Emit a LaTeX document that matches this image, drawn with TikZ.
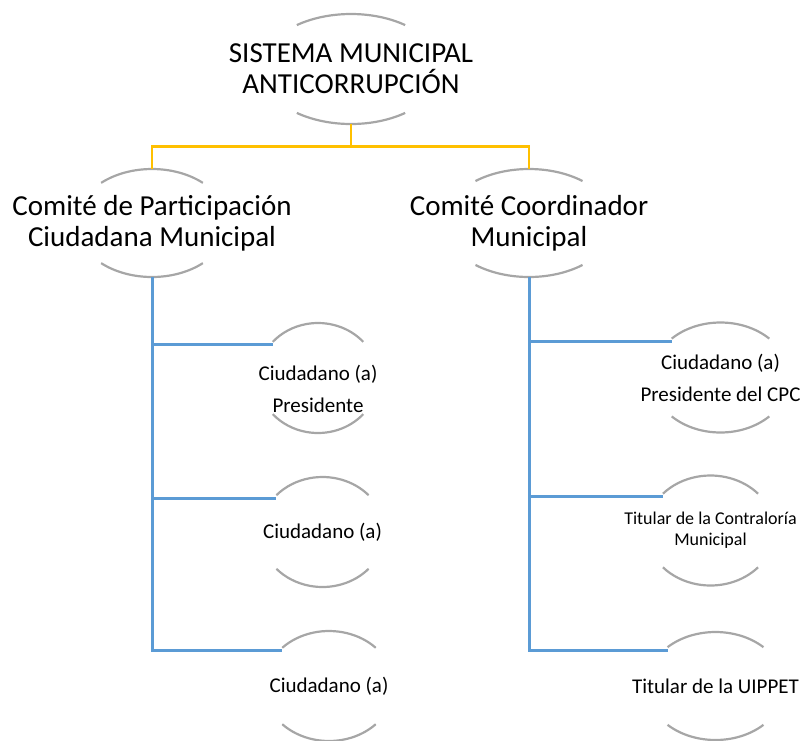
\documentclass[tikz,border=0pt]{standalone}
\usepackage{fontspec}
\setmainfont{Carlito}
\usetikzlibrary{positioning}

\definecolor{arcgray}{HTML}{A6A6A6}
\definecolor{linkgold}{HTML}{FFC000}
\definecolor{linkblue}{HTML}{5B9BD5}

\begin{document}
\begin{tikzpicture}[x=1pt, y=-1pt,
  head/.style={align=center, font=\fontsize{29}{31}\selectfont, inner sep=0pt, minimum height=108pt},
  member/.style={align=center, font=\fontsize{21}{32}\selectfont, inner sep=0pt, minimum height=110pt},
  rim/.style={draw=arcgray, line width=2.2pt},
  goldlink/.style={draw=linkgold, line width=2.6pt},
  bluelink/.style={draw=linkblue, line width=3pt}]
  \useasboundingbox (0,0) rectangle (804,740);
  % heads
  \node[head, minimum height=110pt] (sma) at (351,69) {SISTEMA MUNICIPAL\\ANTICORRUPCIÓN};
  \node[head] (cpc) at (152,223) {Comité de Participación\\Ciudadana Municipal};
  \node[head] (ccm) at (529,223) {Comité Coordinador\\Municipal};
  % members
  \node[member] (c1) at (318,389) {Ciudadano (a)\\Presidente};
  \node[member] (c2) at (322.5,532) {Ciudadano (a)};
  \node[member] (c3) at (329,686) {Ciudadano (a)};
  \node[member] (r1) at (720.5,377.5) {Ciudadano (a)\\Presidente del CPC};
  \node[member, font=\fontsize{18}{21}\selectfont] (r2) at (710.5,530.5) {Titular de la Contraloría\\Municipal};
  \node[member] (r3) at (715.5,686) {Titular de la UIPPET};
  % gray arcs above and below each box
  \foreach \n/\dy/\rx/\ry/\t in {sma/0/90/55/53, cpc/0/76/54/48, ccm/0/85/54/51,
      c1/11/60/55/41, c2/0/62/55/42, c3/0/65/55/44,
      r1/0/69/55/45, r2/0/64/55/42, r3/0/69/54/46}
  {
    \coordinate (\n-mid) at ([yshift=\dy pt]\n.center);
    \draw[rim] (\n-mid) ++(\t:\rx pt and \ry pt)
      arc[start angle=\t, end angle=180-\t, x radius=\rx pt, y radius=\ry pt];
    \draw[rim] (\n-mid) ++(-\t:\rx pt and \ry pt)
      arc[start angle=-\t, end angle=-180+\t, x radius=\rx pt, y radius=\ry pt];
    \coordinate (\n-in) at ([shift={(180-\t:\rx pt and \ry pt)}, yshift=-3pt]\n-mid);
  }
  % connectors
  \draw[goldlink] (sma.south) -- ++(0,22) -| (cpc.north);
  \draw[goldlink] (sma.south) -- ++(0,22) -| (ccm.north);
  \foreach \n in {c1,c2,c3} \draw[bluelink] (cpc.south) |- (\n-in);
  \foreach \n in {r1,r2,r3} \draw[bluelink] (ccm.south) |- (\n-in);
\end{tikzpicture}
\end{document}
